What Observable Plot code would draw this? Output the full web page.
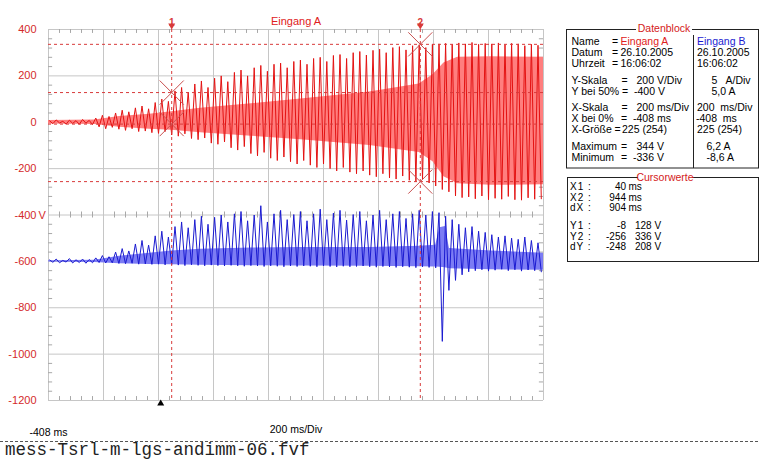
<!DOCTYPE html>
<html><head><meta charset="utf-8">
<script src="https://cdn.jsdelivr.net/npm/d3@7"></script>
<script src="https://cdn.jsdelivr.net/npm/@observablehq/plot@0.6"></script>
<style>body{margin:0;background:#fff;} svg{display:block}</style>
</head><body><div id="chart"></div>
<script>
// ---- axes / scale data ----
const xDomain = [-408, 1392];          // ms, 200 ms/Div, 9 divisions
const yDomain = [-1200, 400];          // V, 200 V/Div, 8 divisions
const xMajor = [-408, -208, -8, 192, 392, 592, 792, 992, 1192, 1392];
const yMajor = [400, 200, 0, -200, -400, -600, -800, -1000, -1200];
const yTickLabels = ["400", "200", "0", "-200", "-400", "-600", "-800", "-1000", "-1200"];
const xLabelLeft = "-408 ms";
const xLabelCenter = "200 ms/Div";
const title = "Eingang A";
const fileName = "mess-Tsrl-m-lgs-andimm-06.fvf";

// ---- signal data: per-cycle peak values ----
const firstCycleMs = -404;   // time of first cycle
const cycleMs = 24;          // approx. visible oscillation period
const redTop = [6,10,4,9,7,12,8,
  18,30,25,40,52,45,62,70,58,85,
  100,90,135,150,130,165,178,150,190,200,
  175,215,225,200,235,245,220,250,255,235,
  262,268,250,275,280,262,288,292,275,300,
  305,290,310,315,300,322,326,312,330,334,
  322,336,338,340,336,342,338,344,336,340,
  338,342,335,340,338,330,336,332];
const redBot = [-6,-3,-8,-5,-9,-4,-10,
  -20,-28,-22,-30,-35,-28,-40,-38,-45,-48,
  -40,-55,-60,-50,-70,-75,-68,-90,-95,-85,
  -110,-120,-105,-135,-145,-130,-155,-165,-150,-170,
  -180,-165,-185,-195,-180,-200,-210,-195,-215,-222,
  -210,-228,-235,-222,-240,-245,-232,-250,-256,-245,
  -262,-275,-290,-300,-318,-325,-322,-330,-318,-334,
  -328,-332,-320,-334,-336,-326,-332,-330];
const blueTop = [-594,-590,-596,-588,-593,-590,-592,
  -585,-575,-580,-560,-545,-555,-525,-510,-530,-490,
  -470,-495,-450,-430,-455,-420,-405,-440,-410,-400,
  -430,-395,-385,-425,-400,-360,-430,-395,-380,-420,
  -398,-385,-425,-395,-375,-420,-392,-380,-422,-398,
  -385,-425,-400,-380,-420,-395,-385,-415,-395,-380,
  -400,-385,-390,-405,-420,-440,-455,-450,-470,-475,
  -485,-495,-490,-500,-505,-495,-510,-520];
const blueBot = [-604,-606,-603,-607,-605,-608,-606,
  -605,-607,-606,-609,-610,-608,-612,-611,-613,-612,
  -615,-614,-616,-618,-615,-617,-619,-616,-618,-620,
  -617,-619,-621,-618,-620,-622,-619,-621,-623,-620,
  -622,-620,-621,-623,-620,-622,-624,-621,-623,-622,
  -620,-623,-625,-622,-624,-626,-623,-625,-627,-624,
  -626,-628,-945,-725,-682,-658,-645,-640,-636,-642,
  -638,-634,-640,-636,-642,-637,-640,-645];

// filled band (dense part of each trace)
const redBandT   = [-408, -240, -150, -40, 40, 145, 330, 510, 760, 940, 990, 1030, 1080, 1200, 1392];
const redBandHi  = [8, 10, 25, 35, 45, 60, 80, 100, 130, 165, 205, 255, 280, 282, 280];
const redBandLo  = [-8, -10, -22, -30, -35, -45, -60, -75, -100, -130, -170, -235, -265, -272, -270];
const blueBandT  = [-408, -240, -150, -40, 40, 145, 330, 510, 760, 940, 1000, 1015, 1035, 1050, 1200, 1392];
const blueBandHi = [-597, -595, -578, -565, -555, -548, -542, -540, -540, -535, -530, -455, -450, -545, -555, -565];
const blueBandLo = [-603, -605, -610, -613, -615, -617, -619, -620, -621, -623, -624, -625, -627, -632, -636, -638];

// cursors
const cursorT = [40, 944];
const cursorNames = ["1", "2"];
const cursorLow = [-8, -256];
const cursorHigh = [128, 336];

// data block texts
const blockTitle = "Datenblock";
const blockLabels = ["Name","Datum","Uhrzeit","Y-Skala","Y bei 50%","X-Skala","X bei 0%","X-Größe","Maximum","Minimum"];
const blockA = ["Eingang A","26.10.2005","16:06:02","200 V/Div","-400 V","200 ms/Div","-408 ms","225 (254)","344 V","-336 V"];
const blockB = ["Eingang B","26.10.2005","16:06:02","5   A/Div","5,0 A","200  ms/Div","-408  ms","225 (254)","6,2 A","-8,6 A"];
const cursorTitle = "Cursorwerte";
const cursorLabels = ["X1 :","X2 :","dX :","Y1 :","Y2 :","dY :"];
const cursorVal1 = ["40","944","904","-8","-256","-248"];
const cursorVal2 = ["ms","ms","ms","128 V","336 V","208 V"];

// ---- derived tables ----
const redPts = redTop.flatMap((v, i) => [
  {t: firstCycleMs + i * cycleMs, v}, {t: firstCycleMs + i * cycleMs + cycleMs / 2, v: redBot[i]}]);
const bluePts = blueTop.flatMap((v, i) => [
  {t: firstCycleMs + i * cycleMs, v}, {t: firstCycleMs + i * cycleMs + cycleMs / 2, v: blueBot[i]}]);
const redBand = redBandT.map((t, i) => ({t, hi: redBandHi[i], lo: redBandLo[i]}));
const blueBand = blueBandT.map((t, i) => ({t, hi: blueBandHi[i], lo: blueBandLo[i]}));
const cursorPts = cursorT.flatMap((t, i) => [{t, v: cursorHigh[i]}, {t, v: cursorLow[i]}]);
const cursorLevels = [...cursorHigh, ...cursorLow];
const minorX = d3.range(xDomain[0], xDomain[1] + 1, 40).filter(t => (t - xDomain[0]) % 200 !== 0);
const minorY = d3.range(yDomain[0], yDomain[1] + 1, 40).filter(v => v % 200 !== 0);

// ---- styles ----
const GRID = "#c6c6c6", TICK = "#a8a8a8";
const RED_LINE = "#e41212", RED_FILL = "#ff7e7e";
const BLUE_LINE = "#1a1ad0", BLUE_FILL = "#7c7cf4";
const LABEL_RED = "#d42a2a", CURSOR = "#d83a3a", MARK = "#c85050";

const svg = Plot.plot({
  width: 760, height: 460,
  marginLeft: 48, marginRight: 217, marginTop: 29, marginBottom: 60,
  x: {domain: xDomain, axis: null},
  y: {domain: yDomain, axis: null},
  style: {fontFamily: "Liberation Sans, Arial, sans-serif", fontSize: "11px", background: "#fff"},
  marks: [
    Plot.ruleY(yMajor, {y: d => d, stroke: GRID}),
    Plot.ruleX(xMajor, {x: d => d, stroke: GRID}),
    Plot.ruleX(minorX, {x: d => d, y1: 400, y2: 383, stroke: TICK}),
    Plot.ruleX(minorX, {x: d => d, y1: -1200, y2: -1183, stroke: TICK}),
    Plot.ruleX(minorX, {x: d => d, y1: -413, y2: -387, stroke: TICK}),
    Plot.ruleY(minorY, {y: d => d, x1: -408, x2: -393, stroke: TICK}),
    Plot.ruleY(minorY, {y: d => d, x1: 1377, x2: 1392, stroke: TICK}),
    Plot.areaY(redBand, {x: "t", y1: "lo", y2: "hi", fill: RED_FILL}),
    Plot.line(redPts, {x: "t", y: "v", stroke: RED_LINE, strokeWidth: 1}),
    Plot.areaY(blueBand, {x: "t", y1: "lo", y2: "hi", fill: BLUE_FILL}),
    Plot.line(bluePts, {x: "t", y: "v", stroke: BLUE_LINE, strokeWidth: 1}),
    Plot.ruleY(cursorLevels, {y: d => d, stroke: CURSOR, strokeDasharray: "3,3"}),
    Plot.ruleX(cursorT, {x: d => d, stroke: CURSOR, strokeDasharray: "3,3", insetTop: -6}),
    Plot.dot(cursorPts, {x: "t", y: "v", symbol: "times", r: 11, stroke: MARK, strokeWidth: 1}),
    Plot.text(cursorT, {x: d => d, text: (d, i) => cursorNames[i], frameAnchor: "top", dy: -11, fill: CURSOR, fontSize: 10, fontWeight: "bold"}),
    Plot.dot(cursorT, {x: d => d, frameAnchor: "top", dy: -4, symbol: "triangle", rotate: 180, r: 2.6, fill: CURSOR}),
    Plot.dot([0], {x: d => d, frameAnchor: "bottom", dy: 3, symbol: "triangle", r: 2.6, fill: "#000"}),
    Plot.text(yMajor, {x: xDomain[0], y: d => d, text: (d, i) => yTickLabels[i], textAnchor: "end", dx: -12, fill: LABEL_RED}),
    Plot.text([-400], {x: xDomain[0], y: d => d, text: () => "V", textAnchor: "start", dx: -10, fill: LABEL_RED}),
    Plot.text([xDomain[0]], {x: d => d, y: yDomain[0], text: () => xLabelLeft, dy: 32, fill: "#000", fontSize: 10.5}),
    Plot.text([xLabelCenter], {frameAnchor: "bottom", dy: 32, fill: "#000", fontSize: 10.5}),
    Plot.text([title], {frameAnchor: "top", dy: -12, fill: "#e02020", fontSize: 11})
  ]
});
document.getElementById("chart").appendChild(svg);

// ---- data block & footer ----
const g = d3.select(svg).append("g").attr("text-anchor", "start")
  .attr("font-family", "Liberation Sans, Arial, sans-serif").attr("font-size", 10.5).attr("fill", "#000");
g.append("rect").attr("x", 566.5).attr("y", 29.5).attr("width", 192).attr("height", 138.5)
  .attr("fill", "none").attr("stroke", "#222");
g.append("line").attr("x1", 693.5).attr("x2", 693.5).attr("y1", 35).attr("y2", 168).attr("stroke", "#222");
g.append("rect").attr("x", 636).attr("y", 23).attr("width", 56).attr("height", 12).attr("fill", "#fff");
g.append("text").attr("x", 664).attr("y", 32).attr("text-anchor", "middle").attr("fill", "#d42020").text(blockTitle);
const rowY = [45, 56, 67, 83.5, 94.5, 111, 122, 133, 150, 161];
const eqX = [612, 612, 612, 621.5, 622, 621.5, 621, 614.5, 621, 621];
const aX = [620.5, 620.5, 620.5, 636.5, 634, 636.5, 633, 622, 636.5, 633];
const bX = [697, 697, 697, 711.5, 711.5, 697, 696, 697, 706.5, 706.5];
blockLabels.forEach((lab, i) => {
  g.append("text").attr("x", 571.5).attr("y", rowY[i]).text(lab);
  g.append("text").attr("x", eqX[i]).attr("y", rowY[i]).text("=");
  g.append("text").attr("x", aX[i]).attr("y", rowY[i]).attr("fill", i === 0 ? "#e02020" : "#000").text(blockA[i]);
  g.append("text").attr("x", bX[i]).attr("y", rowY[i]).attr("xml:space", "preserve").style("white-space", "pre")
    .attr("fill", i === 0 ? "#1a1ad0" : "#000").text(blockB[i]);
});
g.append("rect").attr("x", 567.5).attr("y", 177.5).attr("width", 191).attr("height", 84)
  .attr("fill", "none").attr("stroke", "#222");
g.append("rect").attr("x", 638).attr("y", 171).attr("width", 54).attr("height", 12).attr("fill", "#fff");
g.append("text").attr("x", 665).attr("y", 181).attr("text-anchor", "middle").attr("fill", "#d42020").text(cursorTitle);
const cRowY = [190, 200.5, 211, 229, 239.5, 250];
cursorLabels.forEach((lab, i) => {
  g.append("text").attr("x", 570).attr("y", cRowY[i]).attr("font-size", 10).attr("letter-spacing", 1).text(lab);
  g.append("text").attr("x", 626).attr("y", cRowY[i]).attr("font-size", 10).attr("text-anchor", "end").text(cursorVal1[i]);
  g.append("text").attr("x", i < 3 ? 628.5 : 635).attr("y", cRowY[i]).attr("font-size", 10).text(cursorVal2[i]);
});
const f = d3.select(svg).append("g").attr("text-anchor", "start");
f.append("line").attr("x1", 0).attr("x2", 760).attr("y1", 441.5).attr("y2", 441.5)
  .attr("stroke", "#555").attr("stroke-dasharray", "3,2");
f.append("text").attr("x", 5).attr("y", 455).attr("font-family", "Liberation Mono, Courier New, monospace")
  .attr("font-size", 17.5).attr("fill", "#222").text(fileName);
</script>
</body></html>
